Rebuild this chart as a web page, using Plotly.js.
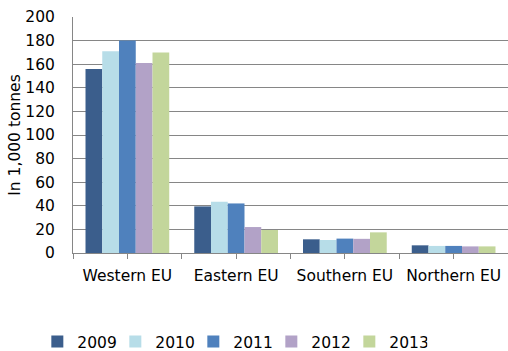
<!DOCTYPE html>
<html><head><meta charset="utf-8">
<script src="https://cdn.plot.ly/plotly-3.0.1.min.js"></script>
<style>html,body{margin:0;padding:0;background:#fff}#chart{width:508px;height:351px}</style>
</head><body><div id="chart"></div>
<script>
const categories = ["Western EU", "Eastern EU", "Southern EU", "Northern EU"];
const years = ["2009", "2010", "2011", "2012", "2013"];
const v2009 = [156, 39.5, 11.6, 6.5];
const v2010 = [171, 43.5, 11, 6];
const v2011 = [180, 42, 12.2, 6];
const v2012 = [161, 22, 12, 5.6];
const v2013 = [170, 19.5, 17.5, 5.6];
const series = [v2009, v2010, v2011, v2012, v2013];
const colors = ["#3B5E8C", "#B7DDE8", "#4F81BD", "#B2A2C7", "#C3D69B"];

const traces = series.map((vals, i) => ({
  type: "bar", x: categories, y: vals, name: years[i],
  marker: {color: colors[i]}, hoverinfo: "skip"
}));
// empty helper trace so the tick-only overlay axis is drawn
traces.push({type: "scatter", x: [], y: [], xaxis: "x2", yaxis: "y", showlegend: false, hoverinfo: "skip"});

const FS = 15.5;
const layout = {
  width: 508, height: 351,
  margin: {l: 73, r: 0, t: 17, b: 98, autoexpand: false},
  paper_bgcolor: "#fff", plot_bgcolor: "#fff",
  font: {family: "DejaVu Sans, Verdana, sans-serif", size: FS, color: "#000"},
  bargap: 0.23, bargroupgap: 0,
  showlegend: true,
  legend: {orientation: "h", x: -0.082, xanchor: "left", y: -0.305, yanchor: "top",
           font: {size: FS}, entrywidth: 33, itemwidth: 30, tracegroupgap: 0},
  xaxis: {showgrid: false, showline: true, linecolor: "#868686", linewidth: 1,
          ticks: "", tickfont: {size: FS}, ticklabelstandoff: 8, fixedrange: true, automargin: false},
  xaxis2: {overlaying: "x", anchor: "y", side: "bottom", range: [-0.5, 3.5], tick0: -0.5, dtick: 0.5,
           ticks: "outside", ticklen: 5, tickcolor: "#868686", showticklabels: false,
           showgrid: false, zeroline: false, showline: false, fixedrange: true},
  yaxis: {range: [0, 200], dtick: 20, showgrid: true, gridcolor: "#868686", gridwidth: 1,
          showline: true, linecolor: "#868686", zeroline: false, ticks: "",
          ticklabelstandoff: 14, automargin: false,
          tickfont: {size: FS}, title: {text: "In 1,000 tonnes", font: {size: FS}, standoff: 0}}
};
Plotly.newPlot("chart", traces, layout, {staticPlot: true});
</script></body></html>
